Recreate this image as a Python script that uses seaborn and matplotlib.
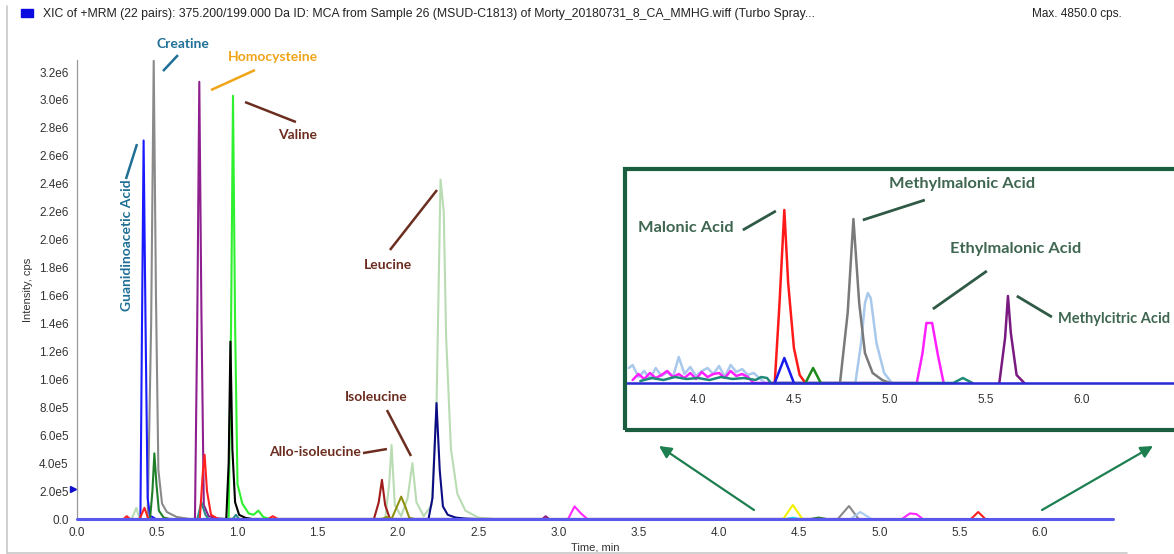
import numpy as np
import pandas as pd
import matplotlib
matplotlib.use("Agg")
import matplotlib.pyplot as plt
import seaborn as sns
from matplotlib.patches import Rectangle
from matplotlib.lines import Line2D
from matplotlib.ticker import MultipleLocator, FuncFormatter

# ---- main chromatogram traces (time in min, intensity in cps) ----
gaa_t = [0.30, 0.395, 0.405, 0.415, 0.427, 0.44, 0.455, 0.47, 0.49]
gaa_i = [0, 0, 1.4e6, 2.71e6, 1.4e6, 1.5e5, 2e4, 1.5e4, 0]

creatine_t = [0.44, 0.462, 0.478, 0.492, 0.507, 0.53, 0.56, 0.62, 0.70, 4.74, 4.81, 4.87]
creatine_i = [0, 1.4e6, 3.28e6, 1.6e6, 3.5e5, 1.1e5, 5e4, 1.5e4, 0, 0, 9.3e4, 0]

leu_t = [0.34, 0.37, 0.39, 1.92, 1.945, 1.96, 1.98, 2.02, 2.06, 2.09, 2.115, 2.16,
         2.21, 2.24, 2.265, 2.285, 2.30, 2.33, 2.37, 2.42, 2.5, 2.6]
leu_i = [0, 8e4, 0, 0, 2.5e5, 5.3e5, 1e5, 2e4, 1.5e5, 4e5, 1.2e5, 2e4,
         1e5, 8e5, 2.43e6, 2.2e6, 1.3e6, 5e5, 1.8e5, 6e4, 1e4, 0]

dkgreen_t = [0.455, 0.47, 0.482, 0.495, 0.51, 0.54, 0.58, 4.57, 4.62, 4.67]
dkgreen_i = [0, 2e5, 4.7e5, 2.5e5, 6e4, 1e4, 0, 0, 1e4, 0]

homocys_t = [0.735, 0.75, 0.762, 0.775, 0.79, 0.82, 0.87, 0.92, 2.90, 2.92, 2.94]
homocys_i = [0, 1.5e6, 3.13e6, 1.5e6, 1e5, 2e4, 5e3, 0, 0, 2e4, 0]

red_t = [0.29, 0.31, 0.33, 0.39, 0.42, 0.445, 0.765, 0.785, 0.795, 0.81, 0.835, 0.88,
         1.19, 1.22, 1.25, 5.57, 5.615, 5.66]
red_i = [0, 2e4, 0, 0, 8e4, 0, 0, 3.5e5, 4.6e5, 2e5, 3e4, 0,
         0, 2e4, 0, 0, 5e4, 0]

teal_t = [0.75, 0.775, 0.80, 0.82, 0.97, 0.99, 1.01]
teal_i = [0, 1.2e5, 3e4, 0, 0, 3e4, 0]

valine_t = [0.945, 0.96, 0.972, 0.985, 1.0, 1.03, 1.07, 1.10, 1.13, 1.16, 1.20]
valine_i = [0, 1.4e6, 3.03e6, 1.4e6, 2.5e5, 1.1e5, 4e4, 3e4, 6e4, 1.5e4, 0]

black_t = [0.93, 0.945, 0.956, 0.968, 0.985, 1.01, 1.05, 1.09]
black_i = [0, 4e5, 1.27e6, 5e5, 1.2e5, 3e4, 8e3, 0]

dkred_t = [1.85, 1.88, 1.90, 1.92, 1.95]
dkred_i = [0, 1.2e5, 2.8e5, 1e5, 0]

olive_t = [1.90, 1.93, 1.96, 1.99, 2.02, 2.045, 2.07, 2.10]
olive_i = [0, 1.5e4, 0, 8e4, 1.6e5, 9e4, 1e4, 0]

navy_t = [2.19, 2.215, 2.24, 2.26, 2.28, 2.31, 2.36, 2.42, 2.48]
navy_i = [0, 1.5e5, 8.3e5, 3.5e5, 9e4, 3e4, 1e4, 3e3, 0]

magenta_t = [3.06, 3.10, 3.14, 3.18, 5.14, 5.19, 5.23, 5.27]
magenta_i = [0, 9e4, 4e4, 0, 0, 4e4, 3.5e4, 0]

yellow_t = [4.40, 4.46, 4.52]
yellow_i = [0, 1e5, 0]
cyan_t = [4.42, 4.46, 4.50]
cyan_i = [0, 1e4, 0]
ltblue_t = [4.82, 4.88, 4.95]
ltblue_i = [0, 5e4, 0]

baseline_t = [0.0, 6.455]
baseline_i = [0, 0]

# ---- zoomed inset traces (cps) ----
in_ltblue_t = [3.64, 3.66, 3.69, 3.72, 3.75, 3.78, 3.81, 3.84, 3.87, 3.90, 3.93, 3.96, 3.99,
               4.02, 4.05, 4.08, 4.11, 4.14, 4.17, 4.20, 4.23, 4.26, 4.29, 4.32, 4.35,
               4.82, 4.85, 4.87, 4.885, 4.90, 4.93, 4.97, 5.01]
in_ltblue_i = [1500, 1800, 600, 1200, 400, 1500, 700, 1100, 600, 2600, 900, 1600, 700,
               1200, 1500, 900, 1700, 600, 1800, 1100, 1400, 800, 1000, 500, 0,
               0, 4000, 8000, 9000, 8500, 4000, 1000, 0]
in_mag_t = [3.66, 3.69, 3.72, 3.75, 3.78, 3.81, 3.84, 3.87, 3.90, 3.93, 3.96, 3.99, 4.02,
            4.05, 4.08, 4.11, 4.14, 4.17, 4.20, 4.23, 4.26, 4.29,
            5.14, 5.17, 5.19, 5.22, 5.25, 5.28]
in_mag_i = [300, 900, 400, 1000, 500, 800, 1200, 600, 900, 500, 1000, 400, 1100,
            600, 900, 1000, 500, 1200, 700, 900, 600, 0,
            0, 3000, 6000, 6000, 2800, 0]
in_teal_t = [3.70, 3.76, 3.82, 3.88, 3.94, 4.00, 4.06, 4.12, 4.18, 4.24, 4.30, 4.33, 4.36, 4.38,
             5.33, 5.38, 5.43]
in_teal_i = [200, 500, 300, 600, 400, 500, 300, 600, 400, 500, 300, 600, 500, 0,
             0, 500, 0]
in_red_t = [4.40, 4.425, 4.45, 4.47, 4.50, 4.53, 4.56]
in_red_i = [0, 8000, 17300, 10000, 3500, 800, 0]
in_blue_t = [4.40, 4.45, 4.50]
in_blue_i = [0, 2500, 0]
in_green_t = [4.56, 4.60, 4.64]
in_green_i = [0, 1500, 0]
in_gray_t = [4.74, 4.78, 4.81, 4.84, 4.87, 4.91, 4.96, 5.0]
in_gray_i = [0, 7000, 16400, 8000, 3000, 1000, 300, 0]
in_purple_t = [5.57, 5.60, 5.615, 5.63, 5.66, 5.70]
in_purple_i = [0, 4500, 8700, 5000, 800, 0]
in_base_t = [3.62, 6.48]
in_base_i = [0, 0]

header = ("XIC of +MRM (22 pairs): 375.200/199.000 Da ID: MCA from Sample 26 (MSUD-C1813) "
          "of Morty_20180731_8_CA_MMHG.wiff (Turbo Spray...")
max_text = "Max. 4850.0 cps."
marker_level = 2.15e5

W, H = 1174, 554


def px_box(x0, y0, x1, y1):
    return [x0 / W, 1 - y1 / H, (x1 - x0) / W, (y1 - y0) / H]


def long_df(traces):
    parts = [pd.DataFrame({"time": t, "intensity": i, "trace": name})
             for name, (t, i) in traces.items()]
    return pd.concat(parts, ignore_index=True)


def sci(v, pos):
    if abs(v) < 1:
        return "0.0"
    e = int(np.floor(np.log10(abs(v)) + 1e-9))
    return f"{v / 10 ** e:.1f}e{e}"


sns.set_style("white")
plt.rcParams["font.family"] = ["Liberation Sans", "DejaVu Sans"]
LABEL_FONT = ["Lato", "DejaVu Sans"]

fig = plt.figure(figsize=(W / 100, H / 100), dpi=100)

# ---------------- main panel ----------------
ax = fig.add_axes(px_box(77, 60, 1113, 519))

main_traces = {
    "leucine": (leu_t, leu_i), "creatine": (creatine_t, creatine_i),
    "gaa": (gaa_t, gaa_i), "dkgreen": (dkgreen_t, dkgreen_i),
    "homocys": (homocys_t, homocys_i), "teal": (teal_t, teal_i),
    "red": (red_t, red_i), "valine": (valine_t, valine_i),
    "black": (black_t, black_i), "dkred": (dkred_t, dkred_i),
    "olive": (olive_t, olive_i), "navy": (navy_t, navy_i),
    "magenta": (magenta_t, magenta_i), "yellow": (yellow_t, yellow_i),
    "cyan": (cyan_t, cyan_i), "ltblue": (ltblue_t, ltblue_i),
}
main_colors = {
    "leucine": "#b9dcb3", "creatine": "#8a8a8a", "gaa": "#1a1aff", "dkgreen": "#1f7f2a",
    "homocys": "#8e1f8e", "teal": "#2a8c8c", "red": "#ff2020", "valine": "#2ef02e",
    "black": "#000000", "dkred": "#a01c1c", "olive": "#8f8f12", "navy": "#0c0c85",
    "magenta": "#ff28ff", "yellow": "#f2f200", "cyan": "#28d8ee", "ltblue": "#a9c9ec",
}
main_df = long_df(main_traces)
sns.lineplot(data=main_df, x="time", y="intensity", hue="trace", hue_order=list(main_traces),
             palette=main_colors, estimator=None, sort=False, legend=False,
             linewidth=1.5, ax=ax)
ax.plot(baseline_t, baseline_i, color="#5858ee", lw=2.2, clip_on=False, zorder=5)
ax.plot([-0.022], [marker_level], marker=">", ms=5, color="#1010cc", clip_on=False)

ax.set_xlim(0, 6.455)
ax.set_ylim(0, 3.286e6)
ax.xaxis.set_major_locator(MultipleLocator(0.5))
ax.xaxis.set_minor_locator(MultipleLocator(0.1))
ax.yaxis.set_major_locator(MultipleLocator(2e5))
ax.yaxis.set_minor_locator(MultipleLocator(1e5))
ax.xaxis.set_major_formatter(FuncFormatter(lambda v, p: f"{v:.1f}"))
ax.yaxis.set_major_formatter(FuncFormatter(sci))
for s in ["top", "right"]:
    ax.spines[s].set_visible(False)
for s in ["left", "bottom"]:
    ax.spines[s].set_color("#9a9a9a")
    ax.spines[s].set_linewidth(0.9)
ax.tick_params(which="both", direction="out", color="#8a8a8a", labelsize=8.5,
               labelcolor="#333333", width=0.8)
ax.tick_params(which="major", length=4, pad=2)
ax.tick_params(which="minor", length=2.5)
ax.set_xlabel("Time, min", fontsize=8, color="#333333", labelpad=2)
ax.set_ylabel("Intensity, cps", fontsize=8, color="#333333", labelpad=4)


def label(a, x, y, s, color, size=10, **kw):
    a.text(x, y, s, color=color, fontsize=size, fontweight="bold", family=LABEL_FONT,
           ha=kw.pop("ha", "center"), va="center", clip_on=False, **kw)


def leader(a, xs, ys, color, lw=1.8):
    a.plot(xs, ys, color=color, lw=lw, clip_on=False, solid_capstyle="butt")


BLUE_LBL, ORANGE_LBL, BROWN_LBL = "#1f6f96", "#f0a418", "#6b2d1f"
label(ax, 0.660, 3.400e6, "Creatine", BLUE_LBL)
leader(ax, [0.536, 0.629], [3.207e6, 3.321e6], BLUE_LBL)
label(ax, 1.221, 3.307e6, "Homocysteine", ORANGE_LBL)
leader(ax, [0.835, 1.109], [3.071e6, 3.214e6], ORANGE_LBL)
label(ax, 1.377, 2.749e6, "Valine", BROWN_LBL)
leader(ax, [1.047, 1.364], [2.985e6, 2.842e6], BROWN_LBL)
label(ax, 0.312, 1.961e6, "Guanidinoacetic Acid", BLUE_LBL, rotation=90)
leader(ax, [0.305, 0.374], [2.434e6, 2.684e6], BLUE_LBL)
label(ax, 1.938, 1.818e6, "Leucine", BROWN_LBL)
leader(ax, [1.950, 2.243], [1.926e6, 2.355e6], BROWN_LBL)
label(ax, 1.863, 0.873e6, "Isoleucine", BROWN_LBL)
leader(ax, [1.931, 2.081], [0.780e6, 0.451e6], BROWN_LBL)
label(ax, 1.483, 0.480e6, "Allo-isoleucine", BROWN_LBL)
leader(ax, [1.782, 1.931], [0.472e6, 0.501e6], BROWN_LBL)

# ---------------- zoomed inset ----------------
ax_in = fig.add_axes(px_box(625, 169, 1174, 430))
in_traces = {
    "ltblue": (in_ltblue_t, in_ltblue_i), "magenta": (in_mag_t, in_mag_i),
    "teal": (in_teal_t, in_teal_i), "red": (in_red_t, in_red_i),
    "green": (in_green_t, in_green_i), "gray": (in_gray_t, in_gray_i),
    "purple": (in_purple_t, in_purple_i), "blue": (in_blue_t, in_blue_i),
}
in_colors = {
    "ltblue": "#a9c9ec", "magenta": "#ff20ff", "teal": "#1f8a78", "red": "#ff1a1a",
    "green": "#1c8a1c", "gray": "#7a7a7a", "purple": "#7a1a80", "blue": "#1a1aee",
}
in_df = long_df(in_traces)
sns.lineplot(data=in_df, x="time", y="intensity", hue="trace", hue_order=list(in_traces),
             palette=in_colors, estimator=None, sort=False, legend=False,
             linewidth=1.8, ax=ax_in)
ax_in.plot(in_base_t, in_base_i, color="#2b2bd6", lw=1.8, zorder=5)

ax_in.set_xlim(3.62, 6.48)
ax_in.set_ylim(-4700, 21400)
ax_in.set_yticks([])
ax_in.xaxis.set_major_locator(MultipleLocator(0.5))
ax_in.xaxis.set_minor_locator(MultipleLocator(0.1))
ax_in.xaxis.set_major_formatter(FuncFormatter(lambda v, p: f"{v:.1f}"))
for s in ["top", "right", "left"]:
    ax_in.spines[s].set_visible(False)
ax_in.spines["bottom"].set_position(("data", 0))
ax_in.spines["bottom"].set_color("#2b2bd6")
ax_in.tick_params(which="both", direction="out", color="#8a8a8a", labelsize=8.5,
                  labelcolor="#333333", width=0.8)
ax_in.tick_params(which="major", length=3, pad=5)
ax_in.tick_params(which="minor", length=2)
ax_in.set_xlabel("")
ax_in.set_ylabel("")

GREEN_LBL = "#3e6650"
IN_SIZE = 11.8
label(ax_in, 3.9375, 15500, "Malonic Acid", GREEN_LBL, size=IN_SIZE)
leader(ax_in, [4.234, 4.406], [15300, 17200], "#2f5a45", lw=2)
label(ax_in, 5.375, 19900, "Methylmalonic Acid", GREEN_LBL, size=IN_SIZE)
leader(ax_in, [4.859, 5.182], [16300, 18300], "#2f5a45", lw=2)
label(ax_in, 5.656, 13400, "Ethylmalonic Acid", GREEN_LBL, size=IN_SIZE)
leader(ax_in, [5.224, 5.505], [7400, 11200], "#2f5a45", lw=2)
# the source crops this label at the edge; shrink it slightly so it stays readable
label(ax_in, 5.875, 6400, "Methylcitric Acid", GREEN_LBL, size=10.5, ha="left")
leader(ax_in, [5.661, 5.844], [8700, 6600], "#2f5a45", lw=2)

fig.add_artist(Rectangle((625 / W, 1 - 430 / H), (1190 - 625) / W, (430 - 169) / H,
                         transform=fig.transFigure, fill=False, ec="#1b5e3f", lw=3, zorder=10))

# arrows pointing from the main baseline region to the inset
ARROW_GREEN = "#1d7f50"
for tail, head in [((754, 510), (659, 446)), ((1042, 510), (1153, 446))]:
    ax.annotate("", xy=(head[0], H - head[1]), xycoords="figure pixels",
                xytext=(tail[0], H - tail[1]), textcoords="figure pixels",
                arrowprops=dict(arrowstyle="-|>", color=ARROW_GREEN, lw=1.6,
                                mutation_scale=18, shrinkA=0, shrinkB=0))

# header and frame
fig.add_artist(Rectangle((21 / W, 1 - 17 / H), 12 / W, 8 / H, transform=fig.transFigure,
                         color="#0a0ae0"))
fig.text(43 / W, 1 - 14 / H, header, fontsize=8.8, va="center", color="#222222")
fig.text(1122 / W, 1 - 14 / H, max_text, fontsize=8.5, va="center", ha="right", color="#222222")
fig.add_artist(Line2D([7 / W, 7 / W], [1 - 553 / H, 1 - 6 / H], color="#c8c8c8", lw=1.2))
fig.add_artist(Line2D([7 / W, 1127 / W], [1 - 553 / H, 1 - 553 / H], color="#c8c8c8", lw=1.2))

fig.savefig("out.png", dpi=100)
